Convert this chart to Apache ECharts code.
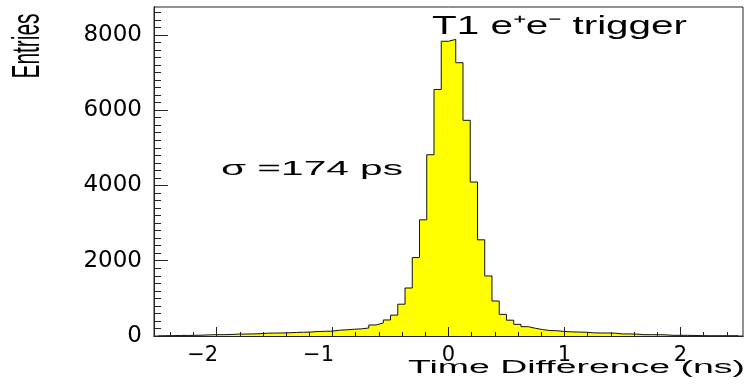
<!DOCTYPE html>
<html>
<head>
<meta charset="utf-8">
<title>Time difference histogram</title>
<script src="https://cdn.jsdelivr.net/npm/echarts@6/dist/echarts.min.js"></script>
<style>
  html, body { margin: 0; padding: 0; background: #fff; }
  #chart { width: 748px; height: 389px; }
</style>
</head>
<body>
<div id="chart"></div>
<script>
// Histogram: 80 bins of 0.0625 ns from -2.5 ns
const binStart = -2.5;
const binWidth = 0.0625;
const counts = [
  5, 8, 15, 15, 18, 22, 30, 35, 35, 40,
  50, 52, 55, 60, 75, 78, 80, 85, 95, 100,
  105, 120, 125, 130, 155, 165, 180, 190, 213, 293,
  346, 426, 555, 845, 1275, 2083, 3086, 4815, 6550, 7830,
  7880, 7260, 5730, 4090, 2555, 1595, 930, 575, 420, 310,
  248, 205, 170, 145, 140, 120, 110, 105, 100, 85,
  80, 80, 75, 55, 55, 50, 35, 35, 35, 30,
  18, 18, 18, 15, 8, 5, 5, 5, 5, 5
];
const xTickValues = [-2, -1, 0, 1, 2];
const xRange = [-2.54, 2.54];
const yMax = 8740;

// step outline points at bin edges
const histPoints = [[binStart, 0]];
counts.forEach((c, i) => histPoints.push([binStart + i * binWidth, c]));
const binEnd = binStart + counts.length * binWidth;
histPoints.push([binEnd, counts[counts.length - 1]]);
histPoints.push([binEnd, 0]);

// minor tick positions
const xMinor = [];
for (let k = -12; k <= 12; k++) xMinor.push(Math.round(k * 2) / 10);
const yMinor = [];
for (let v = 0; v <= yMax; v += 200) yMinor.push(v);

// horizontal stretch of the annotation text (ROOT picture is squashed)
const mctx = document.createElement('canvas').getContext('2d');
function fit(text, font, width) {
  mctx.font = font;
  return width / mctx.measureText(text).width;
}
const FF = '"Liberation Sans", Arial, sans-serif';
const TICK = '#222';

const sigmaText = 'σ =174 ps';
const trigText = 'T1 e⁺e⁻ trigger';
const xTitle = 'Time Difference (ns)';
const yTitle = 'Entries';

const chart = echarts.init(document.getElementById('chart'));
const gridRect = { left: 154, right: 5, top: 7, bottom: 53 };

chart.setOption({
  animation: false,
  grid: [
    Object.assign({ show: true, borderColor: TICK, borderWidth: 1, backgroundColor: 'transparent' }, gridRect),
    Object.assign({ show: false }, gridRect)
  ],
  xAxis: [{
    type: 'value', gridIndex: 0, min: xRange[0], max: xRange[1], z: 5,
    axisLine: { show: true, onZero: false, lineStyle: { color: TICK, width: 1 } },
    axisTick: { show: true, inside: true, length: 9, customValues: xTickValues, lineStyle: { color: TICK, width: 1 } },
    axisLabel: {
      customValues: xTickValues, margin: 9, color: '#000',
      fontFamily: 'DejaVu Sans', fontSize: 21,
      formatter: v => v < 0 ? '{neg|\u2212' + Math.abs(v) + '}' : String(v),
      rich: { neg: { fontFamily: 'DejaVu Sans', fontSize: 21, color: '#000', padding: [0, 28, 0, 0] } }
    },
    splitLine: { show: false }
  }, {
    // minor ticks
    type: 'value', gridIndex: 1, min: xRange[0], max: xRange[1], position: 'bottom', z: 5,
    axisLine: { show: true, onZero: false, lineStyle: { color: TICK, width: 1 } },
    axisTick: { show: true, inside: true, length: 4, customValues: xMinor, lineStyle: { color: TICK, width: 1 } },
    axisLabel: { show: true, customValues: xMinor, color: 'rgba(0,0,0,0)', fontSize: 1 },
    splitLine: { show: false }
  }],
  yAxis: [{
    type: 'value', gridIndex: 0, min: 0, max: yMax, interval: 2000, z: 5,
    axisLine: { show: true, onZero: false, lineStyle: { color: TICK, width: 1 } },
    axisTick: { show: true, inside: true, length: 14, lineStyle: { color: TICK, width: 1 } },
    axisLabel: {
      margin: 12, color: '#000', fontFamily: 'DejaVu Sans', fontSize: 23,
      showMaxLabel: false,
      formatter: v => String(v)
    },
    splitLine: { show: false }
  }, {
    // minor ticks
    type: 'value', gridIndex: 1, min: 0, max: yMax, position: 'left', z: 5,
    axisLine: { show: true, onZero: false, lineStyle: { color: TICK, width: 1 } },
    axisTick: { show: true, inside: true, length: 7, customValues: yMinor, lineStyle: { color: TICK, width: 1 } },
    axisLabel: { show: true, customValues: yMinor, color: 'rgba(0,0,0,0)', fontSize: 1 },
    splitLine: { show: false }
  }],
  series: [{
    type: 'line',
    xAxisIndex: 0, yAxisIndex: 0,
    data: histPoints,
    step: 'end',
    showSymbol: false,
    lineStyle: { color: '#111', width: 1 },
    areaStyle: { color: '#ffff00', opacity: 1 },
    z: 1
  }],
  graphic: [{
    type: 'text', x: 221, y: 169,
    scaleX: fit(sigmaText, '20px ' + FF, 182),
    style: { text: sigmaText, font: '20px ' + FF, fill: '#000', align: 'left', textAlign: 'left', verticalAlign: 'middle', textVerticalAlign: 'middle' }
  }, {
    type: 'text', x: 432, y: 27,
    scaleX: fit(trigText, '25px ' + FF, 255),
    style: { text: trigText, font: '25px ' + FF, fill: '#000', align: 'left', textAlign: 'left', verticalAlign: 'middle', textVerticalAlign: 'middle' }
  }, {
    type: 'text', x: 745, y: 368,
    scaleX: fit(xTitle, '18px ' + FF, 337),
    style: { text: xTitle, font: '18px ' + FF, fill: '#000', align: 'right', textAlign: 'right', verticalAlign: 'middle', textVerticalAlign: 'middle' }
  }, {
    type: 'text', x: 28, y: 46, rotation: Math.PI / 2,
    scaleX: fit(yTitle, '39px ' + FF, 65),
    style: { text: yTitle, font: '39px ' + FF, fill: '#000', align: 'center', textAlign: 'center', verticalAlign: 'middle', textVerticalAlign: 'middle' }
  }]
});
</script>
</body>
</html>
